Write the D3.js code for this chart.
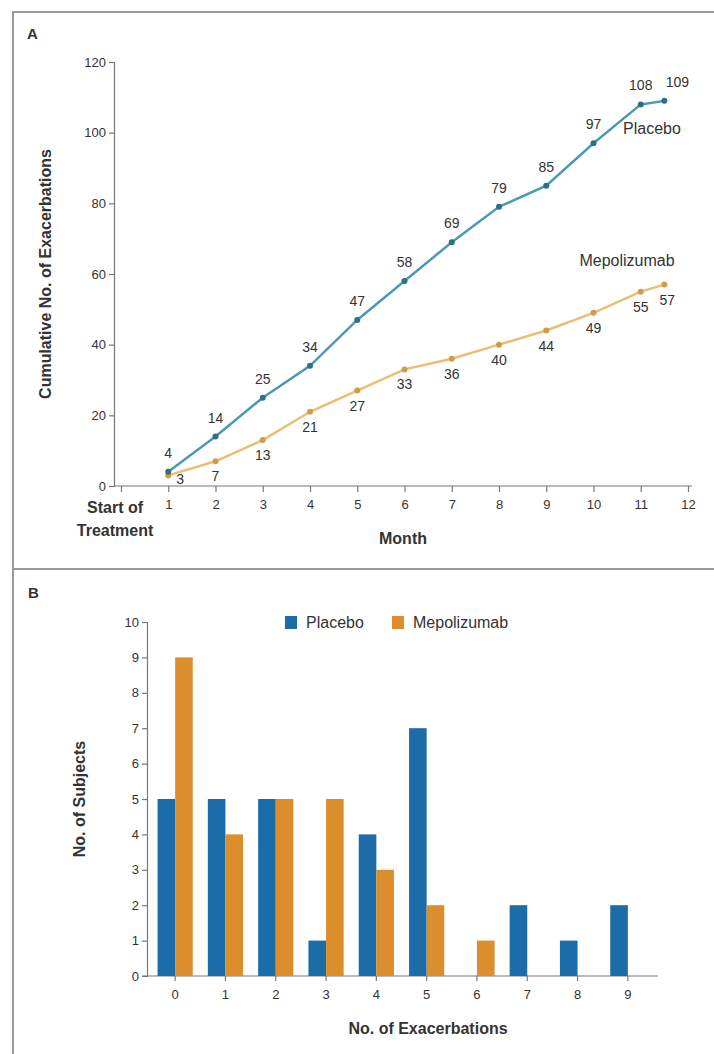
<!DOCTYPE html>
<html><head><meta charset="utf-8">
<script src="https://cdn.jsdelivr.net/npm/d3@7"></script>
<style>
body{margin:0;background:#fff;}
svg text{font-family:"Liberation Sans",Arial,sans-serif;fill:#333;}
</style></head>
<body><svg id="c" width="714" height="1054"></svg>
<script>
// ---- Panel A data ----
const months = [1,2,3,4,5,6,7,8,9,10,11,11.5];
const placeboCum = [4,14,25,34,47,58,69,79,85,97,108,109];
const mepoCum = [3,7,13,21,27,33,36,40,44,49,55,57];
const yTicksA = [0,20,40,60,80,100,120];
const xTicksA = [0,1,2,3,4,5,6,7,8,9,10,11,12];
// ---- Panel B data ----
const exacCats = ["0","1","2","3","4","5","6","7","8","9"];
const placeboSubj = [5,5,5,1,4,7,0,2,1,2];
const mepoSubj = [9,4,5,5,3,2,1,0,0,0];
const yTicksB = [0,1,2,3,4,5,6,7,8,9,10];
const seriesNames = ["Placebo","Mepolizumab"];

const svg = d3.select("#c");
const blueLine="#4a9ab3", blueDot="#2f6f82", orangeLine="#ecbd72", orangeDot="#cf9c4c";
const barBlue="#1c6ca8", barOrange="#dc8d2c";
const titleSize = 16, tickSize = 13, valSize = 14;

// frame
svg.append("path").attr("d","M13,1054 V12 H714").attr("fill","none").attr("stroke","#999").attr("stroke-width",2);
svg.append("line").attr("x1",13).attr("x2",714).attr("y1",569).attr("y2",569).attr("stroke","#999").attr("stroke-width",2);

// ===== Panel A =====
const gA = svg.append("g");
gA.append("text").attr("x",27).attr("y",39).attr("font-weight","bold").attr("font-size",15).text("A");
const xA = d3.scaleLinear().domain([0,12]).range([121,688]);
const yA = d3.scaleLinear().domain([0,120]).range([486,62]);
const axisX0 = 114;

const yAxA = gA.append("g").attr("transform",`translate(${axisX0},0)`)
  .call(d3.axisLeft(yA).tickValues(yTicksA).tickSize(5).tickPadding(3));
yAxA.selectAll("text").attr("font-size",tickSize);
const xAxA = gA.append("g").attr("transform",`translate(0,${yA(0)})`)
  .call(d3.axisBottom(xA).tickValues(xTicksA).tickSize(6).tickPadding(8).tickFormat(d=> d===0?"":d));
xAxA.select(".domain").attr("d",`M${axisX0},0H${xA(12)+4}`);
xAxA.selectAll("text").attr("font-size",tickSize);
[yAxA,xAxA].forEach(a=>{a.selectAll("line,path").attr("stroke","#777").attr("stroke-width",1.2);});
// start of treatment label
const st = gA.append("text").attr("x",axisX0+1).attr("y",yA(0)+27).attr("text-anchor","middle").attr("font-weight","bold").attr("font-size",titleSize);
st.append("tspan").attr("x",axisX0+1).text("Start of");
st.append("tspan").attr("x",axisX0+1).attr("dy",23).text("Treatment");
gA.append("text").attr("x",403).attr("y",544).attr("text-anchor","middle").attr("font-weight","bold").attr("font-size",titleSize).text("Month");
gA.append("text").attr("transform",`translate(51,${(yA(0)+yA(120))/2}) rotate(-90)`).attr("text-anchor","middle").attr("font-weight","bold").attr("font-size",titleSize).text("Cumulative No. of Exacerbations");

const line = d3.line().x((d,i)=>xA(months[i])).y(d=>yA(d));
gA.append("path").datum(mepoCum).attr("d",line).attr("fill","none").attr("stroke",orangeLine).attr("stroke-width",2.5);
gA.append("path").datum(placeboCum).attr("d",line).attr("fill","none").attr("stroke",blueLine).attr("stroke-width",2.5);
gA.selectAll(".dm").data(mepoCum).join("circle").attr("cx",(d,i)=>xA(months[i])).attr("cy",d=>yA(d)).attr("r",3).attr("fill",orangeDot);
gA.selectAll(".dp").data(placeboCum).join("circle").attr("cx",(d,i)=>xA(months[i])).attr("cy",d=>yA(d)).attr("r",3).attr("fill",blueDot);

const n = months.length;
gA.selectAll(".lp").data(placeboCum).join("text")
  .attr("x",(d,i)=>xA(months[i]) + (i===n-1?13:0))
  .attr("y",d=>yA(d)-14).attr("text-anchor","middle").attr("font-size",valSize).text(d=>d);
gA.selectAll(".lm").data(mepoCum).join("text")
  .attr("x",(d,i)=>xA(months[i]) + (i===0?12:(i===n-1?3:0)))
  .attr("y",(d,i)=>yA(d)+(i===0?9:20)).attr("text-anchor","middle").attr("font-size",valSize).text(d=>d);
gA.append("text").attr("x",652).attr("y",134).attr("text-anchor","middle").attr("font-size",16).text(seriesNames[0]);
gA.append("text").attr("x",627).attr("y",266).attr("text-anchor","middle").attr("font-size",16).text(seriesNames[1]);

// ===== Panel B =====
const gB = svg.append("g");
gB.append("text").attr("x",28).attr("y",598).attr("font-weight","bold").attr("font-size",15).text("B");
const x0 = d3.scaleBand().domain(exacCats).range([150,653]).paddingInner(0.3).paddingOuter(0.15);
const x1 = d3.scaleBand().domain(seriesNames).range([0,x0.bandwidth()]);
const yB = d3.scaleLinear().domain([0,10]).range([976,622]);
const axisXB = 147;
const yAxB = gB.append("g").attr("transform",`translate(${axisXB},0)`)
  .call(d3.axisLeft(yB).tickValues(yTicksB).tickSize(5).tickPadding(3));
yAxB.selectAll("text").attr("font-size",tickSize);
const xAxB = gB.append("g").attr("transform",`translate(0,${yB(0)})`)
  .call(d3.axisBottom(x0).tickSize(5).tickPadding(9));
xAxB.select(".domain").attr("d",`M${axisXB-5},0H658`);
xAxB.selectAll("text").attr("font-size",tickSize);
[yAxB,xAxB].forEach(a=>{a.selectAll("line,path").attr("stroke","#777").attr("stroke-width",1.2);});

const rows = exacCats.map((c,i)=>({cat:c, vals:[placeboSubj[i],mepoSubj[i]]}));
const grp = gB.selectAll(".grp").data(rows).join("g").attr("transform",d=>`translate(${x0(d.cat)},0)`);
grp.selectAll("rect").data(d=>d.vals.map((v,j)=>({name:seriesNames[j],v}))).join("rect")
  .attr("x",d=>x1(d.name)).attr("width",x1.bandwidth())
  .attr("y",d=>yB(d.v)).attr("height",d=>yB(0)-yB(d.v))
  .attr("fill",d=>d.name===seriesNames[0]?barBlue:barOrange);

gB.append("text").attr("x",428).attr("y",1034).attr("text-anchor","middle").attr("font-weight","bold").attr("font-size",titleSize).text("No. of Exacerbations");
gB.append("text").attr("transform",`translate(85,${(yB(0)+yB(10))/2}) rotate(-90)`).attr("text-anchor","middle").attr("font-weight","bold").attr("font-size",titleSize).text("No. of Subjects");

// legend
const leg = gB.append("g");
const legX = [285,392];
seriesNames.forEach((s,i)=>{
  leg.append("rect").attr("x",legX[i]).attr("y",616).attr("width",12).attr("height",13).attr("fill",i===0?barBlue:barOrange);
  leg.append("text").attr("x",legX[i]+21).attr("y",628).attr("font-size",16).text(s);
});
</script></body></html>
